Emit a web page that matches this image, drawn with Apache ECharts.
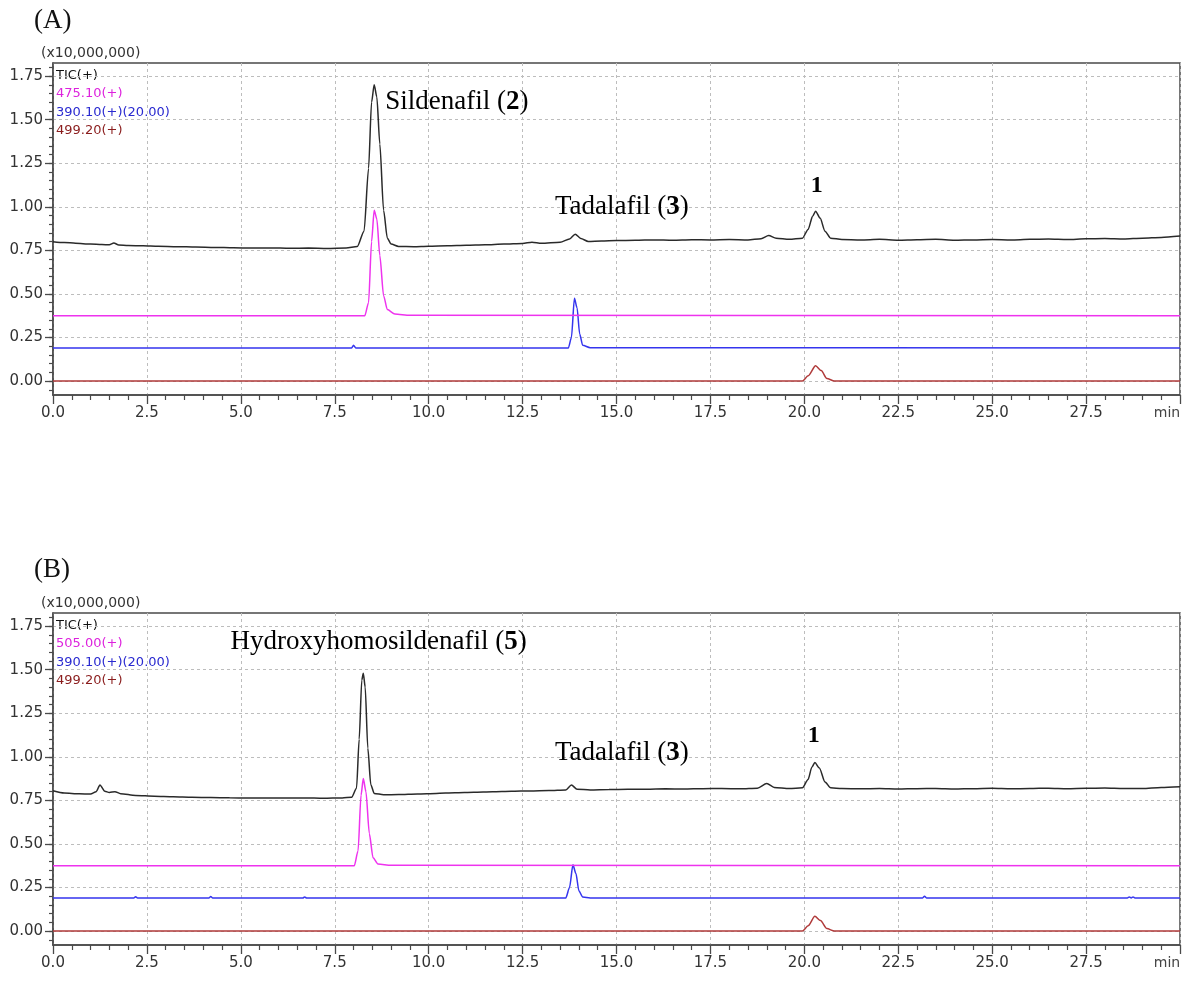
<!DOCTYPE html>
<html>
<head>
<meta charset="utf-8">
<script src="https://cdn.jsdelivr.net/npm/echarts@6/dist/echarts.min.js"></script>
<style>
html,body{margin:0;padding:0;background:#fff;}
#chart{width:1190px;height:981px;}
</style>
</head>
<body>
<div id="chart"></div>
<script>
// ---------- DATA ----------
const xTicks = [0, 2.5, 5, 7.5, 10, 12.5, 15, 17.5, 20, 22.5, 25, 27.5, 30];
const yTicks = [0, 0.25, 0.5, 0.75, 1.0, 1.25, 1.5, 1.75];
const yMinorTicks = [-0.05,0,0.05,0.1,0.15,0.2,0.25,0.3,0.35,0.4,0.45,0.5,0.55,0.6,0.65,0.7,0.75,0.8,0.85,0.9,0.95,1.0,1.05,1.1,1.15,1.2,1.25,1.3,1.35,1.4,1.45,1.5,1.55,1.6,1.65,1.7,1.75,1.8];

// Panel A traces [time (min), intensity (x10,000,000)]
const ticA = [[0,0.800],[0.3,0.795],[0.6,0.791],[1.0,0.786],[1.3,0.783],[1.5,0.782],[1.62,0.792],[1.75,0.781],[2.0,0.778],[2.4,0.776],[2.8,0.773],[3.3,0.771],[3.8,0.769],[4.3,0.767],[4.8,0.765],[5.3,0.763],[5.8,0.764],[6.3,0.762],[6.8,0.763],[7.3,0.761],[7.8,0.763],[8.1,0.772],[8.28,0.86],[8.4,1.22],[8.48,1.60],[8.55,1.70],[8.62,1.63],[8.7,1.36],[8.8,0.98],[8.9,0.82],[9.0,0.786],[9.2,0.772],[9.6,0.771],[10.0,0.774],[10.5,0.776],[11.0,0.779],[11.5,0.782],[12.0,0.786],[12.5,0.790],[12.75,0.797],[13.0,0.791],[13.5,0.797],[13.75,0.815],[13.9,0.843],[14.05,0.818],[14.25,0.801],[14.6,0.804],[15.0,0.806],[15.5,0.808],[16.0,0.810],[16.5,0.808],[17.0,0.811],[17.5,0.810],[18.0,0.812],[18.5,0.810],[18.85,0.817],[19.05,0.835],[19.25,0.819],[19.6,0.813],[19.95,0.820],[20.1,0.870],[20.22,0.945],[20.3,0.975],[20.42,0.935],[20.55,0.860],[20.7,0.820],[21.0,0.812],[21.5,0.810],[22.0,0.813],[22.5,0.808],[23.0,0.811],[23.5,0.813],[24.0,0.808],[24.5,0.810],[25.0,0.812],[25.5,0.810],[26.0,0.813],[26.5,0.815],[27.0,0.812],[27.5,0.816],[28.0,0.818],[28.5,0.815],[29.0,0.820],[29.5,0.824],[30,0.832]];
const ionA1 = [[0,0.375],[8.3,0.375],[8.4,0.45],[8.48,0.80],[8.55,0.98],[8.62,0.93],[8.7,0.72],[8.8,0.49],[8.9,0.41],[9.1,0.385],[9.5,0.377],[30,0.375]];
const ionA2 = [[0,0.190],[7.95,0.190],[8.0,0.205],[8.06,0.190],[13.72,0.190],[13.8,0.25],[13.88,0.475],[13.95,0.42],[14.02,0.27],[14.1,0.205],[14.3,0.191],[30,0.190]];
const ionA3 = [[0,0],[19.95,0],[20.1,0.030],[20.3,0.088],[20.45,0.060],[20.6,0.015],[20.8,0],[30,0]];

// Panel B traces
const ticB = [[0,0.805],[0.3,0.792],[0.7,0.788],[1.0,0.786],[1.15,0.800],[1.25,0.838],[1.38,0.802],[1.5,0.795],[1.65,0.800],[1.8,0.788],[2.2,0.778],[2.7,0.774],[3.2,0.771],[3.7,0.768],[4.2,0.766],[4.7,0.765],[5.2,0.763],[5.7,0.764],[6.2,0.763],[6.7,0.764],[7.2,0.762],[7.7,0.764],[7.95,0.768],[8.08,0.82],[8.15,1.10],[8.22,1.44],[8.26,1.48],[8.31,1.40],[8.38,1.05],[8.46,0.84],[8.55,0.790],[8.8,0.782],[9.2,0.783],[9.7,0.787],[10.2,0.790],[10.7,0.793],[11.2,0.796],[11.7,0.799],[12.2,0.802],[12.7,0.804],[13.2,0.806],[13.65,0.810],[13.8,0.838],[13.95,0.814],[14.3,0.810],[14.8,0.812],[15.3,0.813],[15.8,0.814],[16.3,0.816],[16.8,0.815],[17.3,0.817],[17.8,0.818],[18.3,0.816],[18.75,0.820],[19.0,0.847],[19.2,0.824],[19.6,0.818],[19.95,0.822],[20.1,0.870],[20.2,0.940],[20.28,0.967],[20.4,0.935],[20.55,0.855],[20.7,0.822],[21.0,0.818],[21.5,0.816],[22.0,0.818],[22.5,0.815],[23.0,0.817],[23.5,0.818],[24.0,0.815],[24.5,0.817],[25.0,0.819],[25.5,0.816],[26.0,0.818],[26.5,0.820],[27.0,0.817],[27.5,0.819],[28.0,0.821],[28.5,0.818],[29.0,0.818],[29.5,0.824],[30,0.828]];
const ionB1 = [[0,0.375],[8.02,0.375],[8.12,0.46],[8.2,0.78],[8.26,0.875],[8.33,0.80],[8.42,0.56],[8.52,0.42],[8.65,0.385],[9.0,0.377],[30,0.375]];
const ionB2 = [[0,0.190],[2.15,0.190],[2.2,0.197],[2.25,0.190],[4.15,0.190],[4.2,0.198],[4.25,0.190],[6.65,0.190],[6.7,0.195],[6.75,0.190],[13.65,0.190],[13.75,0.25],[13.84,0.38],[13.92,0.33],[14.0,0.23],[14.1,0.195],[14.3,0.190],[23.15,0.190],[23.2,0.200],[23.25,0.190],[28.6,0.190],[28.65,0.196],[28.7,0.190],[28.75,0.196],[28.8,0.190],[30,0.190]];
const ionB3 = [[0,0],[19.95,0],[20.1,0.030],[20.28,0.085],[20.43,0.060],[20.6,0.014],[20.8,0],[30,0]];

// Channel names
const channelsA = ['TIC(+)', '475.10(+)', '390.10(+)(20.00)', '499.20(+)'];
const channelsB = ['TIC(+)', '505.00(+)', '390.10(+)(20.00)', '499.20(+)'];

// Peak annotations: [time, intensity, name, compound number]
const notesA = [[8.83, 1.60, 'Sildenafil', '2'], [13.35, 1.00, 'Tadalafil', '3'], [20.16, 1.12, '', '1']];
const notesB = [[4.71, 1.657, 'Hydroxyhomosildenafil', '5'], [13.35, 1.02, 'Tadalafil', '3'], [20.08, 1.12, '', '1']];

// ---------- STYLE ----------
const colors = ['#2a2a2a', '#ee33ee', '#3535ee', '#b03a3a'];
const labelColors = ['#111111', '#dd22dd', '#2a2ad0', '#8a1c1c'];
const axisColor = '#4a4a4a';
const tickFont = 'DejaVu Sans';

const chart = echarts.init(document.getElementById('chart'), null, {renderer: 'canvas'});

const grids = [
  {left: 53, top: 63, width: 1127, height: 332},
  {left: 53, top: 613, width: 1127, height: 332}
];

function xAxisFor(g) {
  return {
    type: 'value', gridIndex: g, min: 0, max: 30, interval: 2.5,
    axisLine: {show: true, onZero: false, lineStyle: {color: axisColor, width: 1.5}},
    axisTick: {show: true, inside: false, length: 9, lineStyle: {color: axisColor, width: 1.3}},
    minorTick: {show: true, splitNumber: 5, length: 5, lineStyle: {color: axisColor, width: 1.2}},
    splitLine: {show: true, lineStyle: {color: '#bdbdbd', type: [3, 3], width: 1}},
    minorSplitLine: {show: false},
    axisLabel: {
      show: true, margin: 11, color: '#333', fontFamily: tickFont, fontSize: 15,
      showMaxLabel: true, showMinLabel: true,
      formatter: function (v) { return v === 30 ? '{m|min}' : v.toFixed(1); },
      rich: {m: {fontFamily: tickFont, fontSize: 14, color: '#444', padding: [0, 26, 0, 0]}}
    }
  };
}
function yAxisMajor(g) {
  return {
    type: 'value', gridIndex: g, min: -0.08, max: 1.825, position: 'left',
    axisLine: {show: true, onZero: false, lineStyle: {color: axisColor, width: 1.5}},
    axisTick: {show: true, inside: false, length: 8, customValues: yTicks, lineStyle: {color: axisColor, width: 1.3}},
    splitLine: {show: true, lineStyle: {color: '#bdbdbd', type: [3, 3], width: 1}},
    axisLabel: {
      show: true, margin: 10, color: '#333', fontFamily: tickFont, fontSize: 15,
      customValues: yTicks,
      formatter: function (v) { return v.toFixed(2); }
    }
  };
}
function yAxisMinor(g) {
  return {
    type: 'value', gridIndex: g, min: -0.08, max: 1.825, position: 'left', offset: 0,
    axisLine: {show: false},
    axisTick: {show: true, inside: false, length: 4, customValues: yMinorTicks, lineStyle: {color: axisColor, width: 1.2}},
    splitLine: {show: false},
    axisLabel: {show: false}
  };
}

function traceSeries(name, data, xi, yi, color, z) {
  return {
    name: name, type: 'line', xAxisIndex: xi, yAxisIndex: yi, data: data,
    showSymbol: false, symbol: 'none', smooth: 0.25, smoothMonotone: 'x',
    lineStyle: {color: color, width: 1.5}, z: z, silent: true, animation: false
  };
}

function noteSeries(notes, xi, yi) {
  return {
    type: 'scatter', xAxisIndex: xi, yAxisIndex: yi, silent: true, animation: false,
    symbolSize: 1, itemStyle: {color: 'rgba(255,255,255,0)'}, z: 10,
    data: notes.map(function (n) { return {value: [n[0], n[1]], nm: n[2], num: n[3]}; }),
    label: {
      show: true, position: 'right', distance: 0, color: '#000', opacity: 1,
      textBorderWidth: 0,
      formatter: function (p) {
        const nm = p.data.nm, num = p.data.num;
        if (!nm) return '{one|' + num + '}';
        return '{t|' + nm + ' (}{b|' + num + '}{t|)}';
      },
      rich: {
        t: {fontFamily: 'Liberation Serif', fontSize: 27, color: '#000'},
        b: {fontFamily: 'Liberation Serif', fontSize: 27, fontWeight: 'bold', color: '#000'},
        one: {fontFamily: 'Liberation Serif', fontSize: 24, fontWeight: 'bold', color: '#000'}
      }
    }
  };
}

function channelTexts(names, top) {
  const out = [];
  const gap = 18.4;
  for (let i = 0; i < names.length; i++) {
    out.push({
      type: 'text', left: 56, top: top + i * gap, silent: true,
      style: {text: names[i], fill: labelColors[i], font: '13px "DejaVu Sans"'}
    });
  }
  return out;
}

const option = {
  backgroundColor: '#ffffff',
  animation: false,
  grid: grids.map(function (g) {
    return Object.assign({show: true, borderColor: axisColor, borderWidth: 1.5, backgroundColor: 'transparent'}, g);
  }),
  xAxis: [xAxisFor(0), xAxisFor(1)],
  yAxis: [yAxisMajor(0), yAxisMinor(0), yAxisMajor(1), yAxisMinor(1)],
  series: [
    traceSeries('499.20(+) A', ionA3, 0, 0, colors[3], 2),
    traceSeries('390.10(+) A', ionA2, 0, 0, colors[2], 3),
    traceSeries('475.10(+) A', ionA1, 0, 0, colors[1], 4),
    traceSeries('TIC(+) A', ticA, 0, 0, colors[0], 5),
    traceSeries('499.20(+) B', ionB3, 1, 2, colors[3], 2),
    traceSeries('390.10(+) B', ionB2, 1, 2, colors[2], 3),
    traceSeries('505.00(+) B', ionB1, 1, 2, colors[1], 4),
    traceSeries('TIC(+) B', ticB, 1, 2, colors[0], 5),
    noteSeries(notesA, 0, 0),
    noteSeries(notesB, 1, 2)
  ],
  graphic: [
    {type: 'text', left: 34, top: 7, silent: true, style: {text: '(A)', fill: '#111', font: '27px "Liberation Serif"'}},
    {type: 'text', left: 34, top: 556, silent: true, style: {text: '(B)', fill: '#111', font: '27px "Liberation Serif"'}},
    {type: 'text', left: 41, top: 46, silent: true, style: {text: '(x10,000,000)', fill: '#333', font: '14px "DejaVu Sans"'}},
    {type: 'text', left: 41, top: 596, silent: true, style: {text: '(x10,000,000)', fill: '#333', font: '14px "DejaVu Sans"'}}
  ].concat(channelTexts(channelsA, 69)).concat(channelTexts(channelsB, 619))
};

chart.setOption(option);
</script>
</body>
</html>
